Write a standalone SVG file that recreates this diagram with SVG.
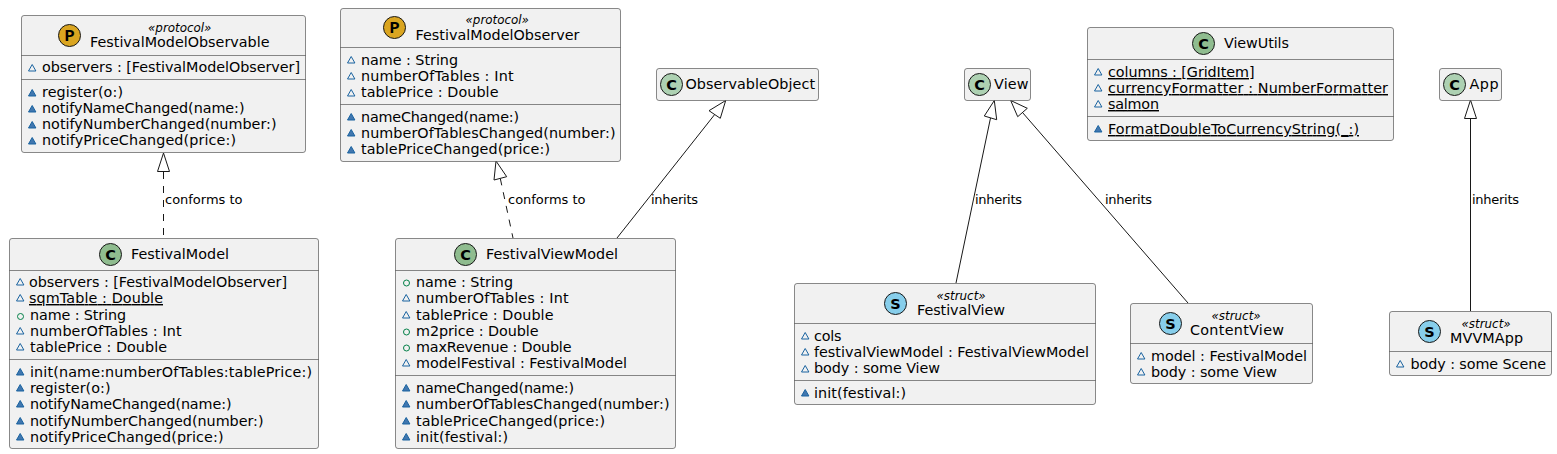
<svg xmlns="http://www.w3.org/2000/svg" width="1557" height="454" viewBox="0 0 1557 454">
<style>
text{font-family:"DejaVu Sans",sans-serif;font-size:14.35px;fill:#000}
.st{font-size:11.9px;font-style:italic}
.lb{font-size:13px}
.u{text-decoration:underline}
.box{fill:#F1F1F1;stroke:#181818;stroke-width:.5}
.sep{stroke:#181818;stroke-width:.5;fill:none}
.ic{stroke:#181818;stroke-width:1}
.cc{fill:#ADD1B2}
.gl{font-weight:bold;font-size:14.5px;text-anchor:middle}
.gp{font-family:"Liberation Mono",monospace;font-size:17px}
.pk{fill:#DAA520}
.k{fill:#8FBC8F}
.sk{fill:#87CEEB}
.a{fill:none;stroke:#1963A0;stroke-width:1}
.m{fill:#4177AF;stroke:#1963A0;stroke-width:1}
.p{fill:none;stroke:#038048;stroke-width:1}
.ln{fill:none;stroke:#181818;stroke-width:1}
.d{stroke-dasharray:7,7}
.h{fill:#fff;stroke:#181818;stroke-width:1}
</style>
<defs>
<path id="at" class="a" d="M0.5,0 l3.700,-6.500 l3.700,6.500 z"/>
<path id="mt" class="m" d="M0.5,0 l3.700,-6.500 l3.700,6.500 z"/>
<circle id="pb" class="p" r="3"/>
</defs>
<g id="connectors">
<path class="ln d" d="M163.500,172 V238"/><path class="h" d="M163.500,153 l-6,18.500 h12 z"/>
<text class="lb" x="165" y="204" textLength="77.500">conforms to</text>
<path class="ln d" d="M500.300,178.500 L513,238"/><path class="h" d="M496,161 L494,180 L506.700,176.700 z"/>
<text class="lb" x="508" y="204" textLength="77.500">conforms to</text>
<path class="ln" d="M714.700,114.500 L617,238"/><path class="h" d="M725.700,100.500 L709,110.700 L720.300,118.300 z"/>
<text class="lb" x="651" y="204" textLength="47">inherits</text>
<path class="ln" d="M990.500,118 L956,283"/><path class="h" d="M994.300,100.500 L984.300,116 L996.700,119.700 z"/>
<text class="lb" x="975" y="204" textLength="47">inherits</text>
<path class="ln" d="M1022.500,112.500 L1188,303"/><path class="h" d="M1010.700,100.500 L1017.700,116.700 L1027.300,108.300 z"/>
<text class="lb" x="1105" y="204" textLength="47">inherits</text>
<path class="ln" d="M1470.500,118 V311"/><path class="h" d="M1470.500,100 l-6,18.500 h12 z"/>
<text class="lb" x="1472" y="204" textLength="47">inherits</text>
</g>
<g id="FestivalModelObservable">
<rect class="box" x="21.500" y="15.500" width="284" height="137" rx="2.500"/>
<path class="sep" d="M21.500,55.500 H305.500 M21.500,79.500 H305.500"/>
<circle class="ic pk" cx="69.500" cy="35.500" r="11"/><text class="gl gp" x="69.500" y="40.500">P</text>
<text class="st" x="148" y="32">«protocol»</text><text x="90" y="47" textLength="179.500">FestivalModelObservable</text>
<use href="#at" x="28" y="71"/><text x="42" y="72" textLength="258">observers : [FestivalModelObserver]</text>
<use href="#mt" x="28" y="96"/><text x="42" y="97" textLength="81">register(o:)</text>
<use href="#mt" x="28" y="112"/><text x="42" y="113" textLength="202.500">notifyNameChanged(name:)</text>
<use href="#mt" x="28" y="128"/><text x="42" y="129" textLength="234.500">notifyNumberChanged(number:)</text>
<use href="#mt" x="28" y="144"/><text x="42" y="145" textLength="194">notifyPriceChanged(price:)</text>
</g>
<g id="FestivalModel">
<rect class="box" x="9.500" y="238.500" width="309" height="210" rx="2.500"/>
<path class="sep" d="M9.500,270.500 H318.500 M9.500,359.500 H318.500"/>
<circle class="ic k" cx="110.500" cy="254.500" r="11"/><text class="gl" x="110.500" y="259.500">C</text>
<text x="131" y="259" textLength="98">FestivalModel</text>
<use href="#at" x="16" y="285"/><text x="29" y="287" textLength="258">observers : [FestivalModelObserver]</text>
<use href="#at" x="16" y="301"/><text class="u" x="29" y="303" textLength="134">sqmTable : Double</text>
<use href="#pb" x="20.500" y="316.500"/><text x="30" y="320" textLength="96">name : String</text>
<use href="#at" x="16" y="334"/><text x="30" y="336" textLength="151.500">numberOfTables : Int</text>
<use href="#at" x="16" y="350"/><text x="30" y="352" textLength="137">tablePrice : Double</text>
<use href="#mt" x="16" y="375"/><text x="30" y="377" textLength="282">init(name:numberOfTables:tablePrice:)</text>
<use href="#mt" x="16" y="391"/><text x="30" y="393" textLength="80.500">register(o:)</text>
<use href="#mt" x="16" y="407"/><text x="30" y="409" textLength="201.500">notifyNameChanged(name:)</text>
<use href="#mt" x="16" y="424"/><text x="30" y="426" textLength="233.500">notifyNumberChanged(number:)</text>
<use href="#mt" x="16" y="440"/><text x="30" y="442" textLength="193.500">notifyPriceChanged(price:)</text>
</g>
<g id="FestivalModelObserver">
<rect class="box" x="340.500" y="8.500" width="280" height="153" rx="2.500"/>
<path class="sep" d="M340.500,47.500 H620.500 M340.500,104.500 H620.500"/>
<circle class="ic pk" cx="394.500" cy="27.500" r="11"/><text class="gl gp" x="394.500" y="32.500">P</text>
<text class="st" x="465.500" y="24">«protocol»</text><text x="415.500" y="40" textLength="164">FestivalModelObserver</text>
<use href="#at" x="347" y="63"/><text x="361" y="65" textLength="97">name : String</text>
<use href="#at" x="347" y="79"/><text x="361" y="81" textLength="152.500">numberOfTables : Int</text>
<use href="#at" x="347" y="96"/><text x="361" y="97" textLength="137.500">tablePrice : Double</text>
<use href="#mt" x="347" y="120"/><text x="361" y="122" textLength="158">nameChanged(name:)</text>
<use href="#mt" x="347" y="136"/><text x="361" y="138" textLength="254.500">numberOfTablesChanged(number:)</text>
<use href="#mt" x="347" y="153"/><text x="361" y="154" textLength="189">tablePriceChanged(price:)</text>
</g>
<g id="FestivalViewModel">
<rect class="box" x="395.500" y="238.500" width="280" height="210" rx="2.500"/>
<path class="sep" d="M395.500,270.500 H675.500 M395.500,375.500 H675.500"/>
<circle class="ic k" cx="465.500" cy="254.500" r="11"/><text class="gl" x="465.500" y="259.500">C</text>
<text x="486" y="259" textLength="132">FestivalViewModel</text>
<use href="#pb" x="406.500" y="283"/><text x="416" y="287" textLength="97">name : String</text>
<use href="#at" x="402" y="301"/><text x="416" y="303" textLength="152.500">numberOfTables : Int</text>
<use href="#at" x="402" y="318"/><text x="416" y="320" textLength="137.500">tablePrice : Double</text>
<use href="#pb" x="406.500" y="332"/><text x="416" y="336" textLength="122.500">m2price : Double</text>
<use href="#pb" x="406.500" y="348"/><text x="416" y="352" textLength="155.500">maxRevenue : Double</text>
<use href="#at" x="402" y="366"/><text x="416" y="368" textLength="211">modelFestival : FestivalModel</text>
<use href="#mt" x="402" y="391"/><text x="416" y="393" textLength="158">nameChanged(name:)</text>
<use href="#mt" x="402" y="407"/><text x="416" y="409" textLength="253.500">numberOfTablesChanged(number:)</text>
<use href="#mt" x="402" y="424"/><text x="416" y="426" textLength="189">tablePriceChanged(price:)</text>
<use href="#mt" x="402" y="440"/><text x="416" y="442" textLength="92">init(festival:)</text>
</g>
<g id="ObservableObject">
<rect class="box" x="656.500" y="68.500" width="162" height="32" rx="2.500"/>
<circle class="ic cc" cx="671.500" cy="84.500" r="11"/><text class="gl" x="671.500" y="89.500">C</text>
<text x="685.500" y="89" textLength="129.500">ObservableObject</text>
</g>
<g id="View">
<rect class="box" x="964.500" y="68.500" width="66" height="32" rx="2.500"/>
<circle class="ic cc" cx="979.500" cy="84.500" r="11"/><text class="gl" x="979.500" y="89.500">C</text>
<text x="994" y="89" textLength="34.500">View</text>
</g>
<g id="FestivalView">
<rect class="box" x="794.500" y="283.500" width="301" height="121" rx="2.500"/>
<path class="sep" d="M794.500,323.500 H1095.500 M794.500,380.500 H1095.500"/>
<circle class="ic sk" cx="895.500" cy="303.500" r="11"/><text class="gl" x="895.500" y="308.500">S</text>
<text class="st" x="936.500" y="300">«struct»</text><text x="917" y="315" textLength="88">FestivalView</text>
<use href="#at" x="801" y="339"/><text x="814" y="341" textLength="27.500">cols</text>
<use href="#at" x="801" y="355"/><text x="814" y="357" textLength="275">festivalViewModel : FestivalViewModel</text>
<use href="#at" x="801" y="372"/><text x="814" y="373" textLength="126">body : some View</text>
<use href="#mt" x="801" y="396"/><text x="814" y="398" textLength="92">init(festival:)</text>
</g>
<g id="ContentView">
<rect class="box" x="1130.500" y="303.500" width="182" height="80" rx="2.500"/>
<path class="sep" d="M1130.500,343.500 H1312.500"/>
<circle class="ic sk" cx="1170.500" cy="323.500" r="11"/><text class="gl" x="1170.500" y="328.500">S</text>
<text class="st" x="1211.500" y="320">«struct»</text><text x="1190" y="335" textLength="94">ContentView</text>
<use href="#at" x="1137" y="359"/><text x="1151" y="361" textLength="156">model : FestivalModel</text>
<use href="#at" x="1137" y="375"/><text x="1151" y="377" textLength="126">body : some View</text>
</g>
<g id="ViewUtils">
<rect class="box" x="1087.500" y="27.500" width="306" height="113" rx="2.500"/>
<path class="sep" d="M1087.500,59.500 H1393.500 M1087.500,116.500 H1393.500"/>
<circle class="ic k" cx="1203.500" cy="43.500" r="11"/><text class="gl" x="1203.500" y="48.500">C</text>
<text x="1224" y="48" textLength="65">ViewUtils</text>
<use href="#at" x="1094" y="75"/><text class="u" x="1108" y="77" textLength="146.500">columns : [GridItem]</text>
<use href="#at" x="1094" y="91"/><text class="u" x="1108" y="93" textLength="280">currencyFormatter : NumberFormatter</text>
<use href="#at" x="1094" y="107"/><text class="u" x="1108" y="109" textLength="51">salmon</text>
<use href="#mt" x="1094" y="132"/><text class="u" x="1108" y="134" textLength="251">FormatDoubleToCurrencyString(_:)</text>
</g>
<g id="App">
<rect class="box" x="1439.500" y="68.500" width="62" height="32" rx="2.500"/>
<circle class="ic cc" cx="1454.500" cy="84.500" r="11"/><text class="gl" x="1454.500" y="89.500">C</text>
<text x="1469.500" y="89" textLength="29">App</text>
</g>
<g id="MVVMApp">
<rect class="box" x="1389.500" y="311.500" width="162" height="64" rx="2.500"/>
<path class="sep" d="M1389.500,351.500 H1551.500"/>
<circle class="ic sk" cx="1429.500" cy="331.500" r="11"/><text class="gl" x="1429.500" y="336.500">S</text>
<text class="st" x="1461.500" y="328">«struct»</text><text x="1450" y="343" textLength="73">MVVMApp</text>
<use href="#at" x="1396" y="367"/><text x="1410.500" y="369" textLength="135.500">body : some Scene</text>
</g>
</svg>
